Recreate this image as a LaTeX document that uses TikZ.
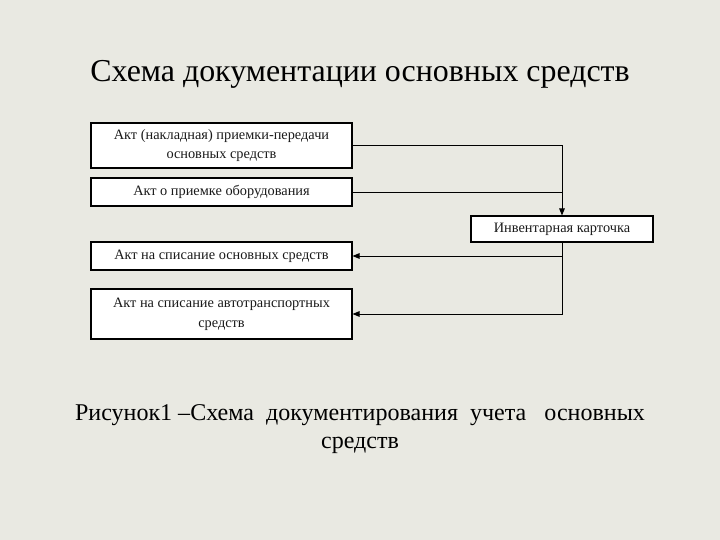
\documentclass[tikz,border=0pt]{standalone}
\usepackage{fontspec}
\setmainfont{Liberation Serif}
\usepackage{xcolor}
\usetikzlibrary{arrows.meta, positioning, calc}
\definecolor{slide}{HTML}{E9E9E2}
\definecolor{ink}{HTML}{1A1A1A}

\begin{document}
\begin{tikzpicture}[
    docbox/.style={draw, thick, fill=white, minimum width=6.525cm, minimum height=#1, align=center, font=\rmfamily\fontsize{10.2}{14}\selectfont\color{ink}},
    link/.style={draw, semithick},
    >={Triangle[length=5pt, width=4pt]},
]
    % Slide background
    \fill[slide] (0, 0) rectangle (18, 13.5);

    % Title
    \node[font=\rmfamily\fontsize{22.7}{27}\selectfont] (title) at (9, 11.65) {Схема документации основных средств};

    % Document boxes
    \node[docbox=1.125cm] (b1) at (5.5375, 9.8625) {Акт (накладная) приемки-передачи\\основных средств};
    \node[docbox=0.7cm] (b2) at (5.5375, 8.7) {Акт о приемке оборудования};
    \node[docbox=0.7cm] (b3) at (5.5375, 7.1) {Акт на списание основных средств};
    \node[docbox=1.25cm] (b4) at (5.5375, 5.65) {Акт на списание автотранспортных\\средств};

    % Card
    \node[docbox=0.65cm, minimum width=4.55cm] (card) at (14.05, 7.775) {Инвентарная карточка};

    % Connectors
    \draw[link, ->] (b1.east) -| (card.north);
    \draw[link] (b2.east) -- (b2.east -| card.north);
    \draw[link, ->] (card.south) |- (b4.east);
    \draw[link, ->] (card.south |- b3.east) -- (b3.east);

    % Caption
    \node[font=\rmfamily\fontsize{17.1}{19.8}\selectfont, align=center] (caption) at (9, 2.775) {Рисунок1 –Схема\ \ документирования\ \ учета\ \ \ основных\\средств};
\end{tikzpicture}
\end{document}
